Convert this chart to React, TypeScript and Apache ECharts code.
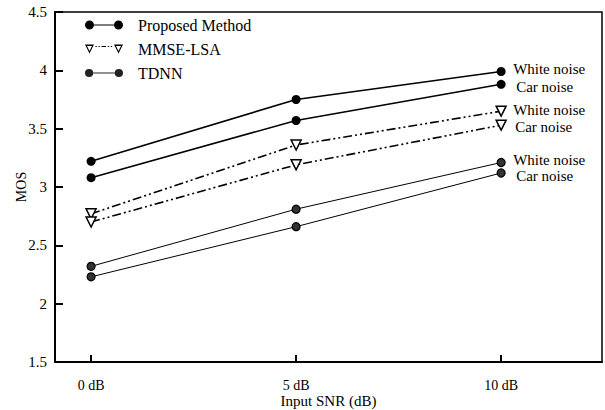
import React, { useEffect, useRef } from "react";
import * as echarts from "echarts";

const snrValues = [0, 5, 10];
const xTickValues = [0, 5, 10];
const proposedWhite = [3.22, 3.75, 3.99];
const proposedCar = [3.08, 3.57, 3.88];
const mmseWhite = [2.77, 3.36, 3.65];
const mmseCar = [2.7, 3.19, 3.53];
const tdnnWhite = [2.32, 2.81, 3.21];
const tdnnCar = [2.23, 2.66, 3.12];
const legendNames = ["Proposed Method", "MMSE-LSA", "TDNN"];
const endLabelWhite = "White noise";
const endLabelCar = "Car noise";

const FONT = "'Liberation Serif', 'DejaVu Serif', serif";

const circ = (cx: number, r: number, cy: number) =>
  `M${cx - r},${cy} A${r},${r} 0 1 0 ${cx + r},${cy} A${r},${r} 0 1 0 ${cx - r},${cy} Z`;

const iconProposed =
  "path://" + circ(4.5, 4.5, 4.5) + " " + circ(33.5, 4.5, 4.5) + " M9,3.9 L29,3.9 L29,5.1 L9,5.1 Z";
const tri = (x: number) =>
  `M${x},0 L${x + 9},0 L${x + 4.5},9 Z M${x + 2},1.4 L${x + 4.5},6.4 L${x + 7},1.4 Z`;
const iconMmse =
  "path://" +
  tri(0) +
  " " +
  tri(29) +
  " M10.5,1.5 L11.8,1.5 L11.8,2.5 L10.5,2.5 Z M13.5,1.5 L14.8,1.5 L14.8,2.5 L13.5,2.5 Z M16.5,1.5 L21,1.5 L21,2.5 L16.5,2.5 Z M22.8,1.5 L24.1,1.5 L24.1,2.5 L22.8,2.5 Z M25.8,1.5 L27.1,1.5 L27.1,2.5 L25.8,2.5 Z";
const iconTdnn =
  "path://" + circ(4.5, 4, 4.5) + " " + circ(33.5, 4, 4.5) + " M8.5,4 L29.5,4 L29.5,5 L8.5,5 Z";

function toPairs(vals: number[]) {
  return snrValues.map((x, i) => [x, vals[i]]);
}

export default function App() {
  const ref = useRef<HTMLDivElement>(null);
  useEffect(() => {
    if (!ref.current) return;
    const chart = echarts.init(ref.current, undefined, { renderer: "svg" });
    const endLabel = (text: string, dx: number, dy: number) => ({
      show: true,
      formatter: text,
      color: "#000",
      fontFamily: FONT,
      fontSize: 15,
      distance: 12,
      offset: [dx, dy],
    });
    const proposedStyle = {
      symbol: "circle",
      symbolSize: 9,
      itemStyle: { color: "#000" },
      lineStyle: { color: "#000", width: 1.6, type: "solid" as const },
    };
    const mmseStyle = {
      symbol: "triangle",
      symbolRotate: 180,
      symbolSize: 10,
      itemStyle: { color: "#fff", borderColor: "#000", borderWidth: 1.5 },
      lineStyle: { color: "#000", width: 1.6, type: [9, 3, 2, 3, 2, 3] as any },
    };
    const tdnnStyle = {
      symbol: "circle",
      symbolSize: 8,
      itemStyle: { color: "#333", borderColor: "#000", borderWidth: 1.2 },
      lineStyle: { color: "#000", width: 1, type: "solid" as const },
    };
    const mk = (name: string, vals: number[], style: any, label: string, dx: number, dy: number) => ({
      type: "line",
      name,
      data: toPairs(vals),
      ...style,
      z: 3,
      endLabel: endLabel(label, dx, dy),
      emphasis: { disabled: true },
    });
    chart.setOption({
      animation: false,
      backgroundColor: "#fff",
      grid: {
        left: 55,
        right: 3,
        top: 12,
        bottom: 48,
        outerBoundsMode: "none",
        containLabel: false,
        show: true,
        borderColor: "#000",
        borderWidth: 1.5,
        backgroundColor: "transparent",
      },
      legend: {
        orient: "vertical",
        left: 80,
        top: 12,
        itemWidth: 38,
        itemHeight: 9,
        itemGap: 8,
        selectedMode: false,
        textStyle: {
          fontFamily: FONT,
          fontSize: 16,
          color: "#000",
          padding: [0, 0, 0, 10],
        },
        data: [
          { name: legendNames[0], icon: iconProposed, itemStyle: { color: "#000", borderWidth: 0 } },
          { name: legendNames[1], icon: iconMmse, itemStyle: { color: "#000", borderWidth: 0 } },
          { name: legendNames[2], icon: iconTdnn, itemStyle: { color: "#222", borderWidth: 0 } },
        ],
      },
      xAxis: {
        type: "value",
        min: -0.88,
        max: 12.46,
        name: "Input SNR (dB)",
        nameLocation: "middle",
        nameGap: 31,
        nameMoveOverlap: false,
        nameTextStyle: { fontFamily: FONT, fontSize: 15, color: "#000" },
        axisLine: { onZero: false, lineStyle: { color: "#000", width: 2 } },
        axisTick: {
          show: true,
          inside: true,
          length: 7,
          customValues: xTickValues,
          lineStyle: { color: "#000", width: 2 },
        },
        axisLabel: {
          customValues: xTickValues,
          formatter: (v: number) => `${v} dB`,
          fontFamily: FONT,
          fontSize: 14,
          color: "#000",
          margin: 16,
        },
        splitLine: { show: false },
      },
      yAxis: {
        type: "value",
        min: 1.5,
        max: 4.5,
        interval: 0.5,
        name: "MOS",
        nameLocation: "middle",
        nameGap: 27,
        nameMoveOverlap: false,
        nameTextStyle: { fontFamily: FONT, fontSize: 14, color: "#000" },
        axisLine: { show: true, onZero: false, lineStyle: { color: "#000", width: 2 } },
        axisTick: { show: true, inside: true, length: 8, lineStyle: { color: "#000", width: 2 } },
        axisLabel: {
          fontFamily: FONT,
          fontSize: 15,
          color: "#000",
          margin: 8,
          formatter: (v: number) => String(v),
        },
        splitLine: { show: false },
      },
      series: [
        mk(legendNames[0], proposedWhite, proposedStyle, endLabelWhite, 0, -3),
        mk(legendNames[0], proposedCar, proposedStyle, endLabelCar, 3, 3),
        mk(legendNames[1], mmseWhite, mmseStyle, endLabelWhite, 0, -1),
        mk(legendNames[1], mmseCar, mmseStyle, endLabelCar, 2, 2),
        mk(legendNames[2], tdnnWhite, tdnnStyle, endLabelWhite, 0, -3),
        mk(legendNames[2], tdnnCar, tdnnStyle, endLabelCar, 3, 3),
      ],
    });
    return () => chart.dispose();
  }, []);
  return (
    <div
      ref={ref}
      style={{ position: "absolute", left: 0, top: 0, width: 605, height: 410 }}
    />
  );
}
